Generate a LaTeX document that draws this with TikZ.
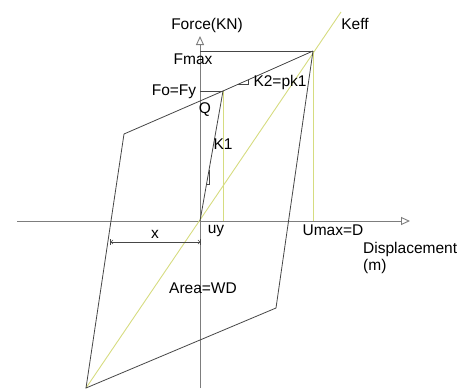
\documentclass[tikz,border=0pt]{standalone}
\usepackage{fontspec}
\setmainfont{Liberation Sans}
\usetikzlibrary{arrows.meta,calc}

\definecolor{keffyellow}{RGB}{214,220,128}
\definecolor{axisgray}{RGB}{125,125,125}
\definecolor{loopgray}{RGB}{70,70,70}

\tikzset{
  axisline/.style={draw=axisgray,line width=0.9pt,-{Triangle[open,length=9pt,width=8pt]}},
  loopline/.style={draw=loopgray,line width=0.8pt},
  helpline/.style={draw=keffyellow,line width=0.9pt},
  dimline/.style={draw=loopgray,line width=0.6pt,{Bar[width=6pt]Straight Barb[length=2pt]}-{Straight Barb[length=2pt]Bar[width=6pt]}},
  lbl/.style={inner sep=0pt,font=\fontsize{15.5}{18}\selectfont}
}

\begin{document}
\begin{tikzpicture}[x=1pt,y=-1pt]
            \useasboundingbox (0,0) rectangle (471,391);
            % main points
            \coordinate (O) at (200,221);
            \coordinate (A) at (313,51);
            \coordinate (Y) at (223,91);
            \coordinate (B) at (124,134);
            \coordinate (C) at (86,388);
            \coordinate (D) at (276,308);
            \coordinate (Ke) at (341,12);
            \coordinate (Fm) at (O |- A);
            \coordinate (Fy) at (O |- Y);
            \coordinate (uyft) at (Y |- O);
            \coordinate (umft) at (A |- O);
            \coordinate (dl) at (110,242);
            \coordinate (dr) at (201,242);

            % axes
            \draw[axisline] (17,221) coordinate (xl) -- (410,221) coordinate (xr);
            \draw[axisline] (200,388) coordinate (yb) -- (200,36) coordinate (yt);

            % yellow helper lines
            \draw[helpline] (C) -- (Ke);
            \draw[helpline] (Y) -- (uyft);
            \draw[helpline] (A) -- (umft);

            % hysteresis loop
            \draw[loopline] (O) -- (Y) -- (A);
            \draw[loopline] (B) -- (Y);
            \draw[loopline] (A) -- (D) -- (C) -- (B);
            \draw[loopline] (Fm) -- (A);
            \draw[loopline] (Fy) -- (Y);

            % slope markers
            \draw[loopline,line width=0.6pt] ($(Y)!0.17!(A)$) coordinate (k2a) -- (k2a -| {$(Y)!0.28!(A)$}) -- ($(Y)!0.28!(A)$);
            \draw[loopline,line width=0.6pt] ($(O)!0.28!(Y)$) coordinate (k1a) -- (k1a -| {$(O)!0.39!(Y)$}) -- ($(O)!0.39!(Y)$);

            % dimension
            \draw[dimline] (dl) -- (dr);

            % labels
            \node[lbl] (force) at (207,25) {Force(KN)};
            \node[lbl] (keff) at (355,24) {Keff};
            \node[lbl] (fmax) at (193,59) {Fmax};
            \node[lbl] (k2) at (280,82) {K2=pk1};
            \node[lbl] (fo) at (174,92) {Fo=Fy};
            \node[lbl] (q) at (205,110) {Q};
            \node[lbl] (k1) at (223,144) {K1};
            \node[lbl] (uy) at (216,231) {uy};
            \node[lbl] (umax) at (333,230) {Umax=D};
            \node[lbl] (xlab) at (155,234) {x};
            \node[lbl,anchor=west] (disp) at (363,249) {Displacement};
            \node[lbl,anchor=west] (unit) at (363,266) {(m)};
            \node[lbl] (area) at (203,288) {Area=WD};
\end{tikzpicture}
\end{document}
